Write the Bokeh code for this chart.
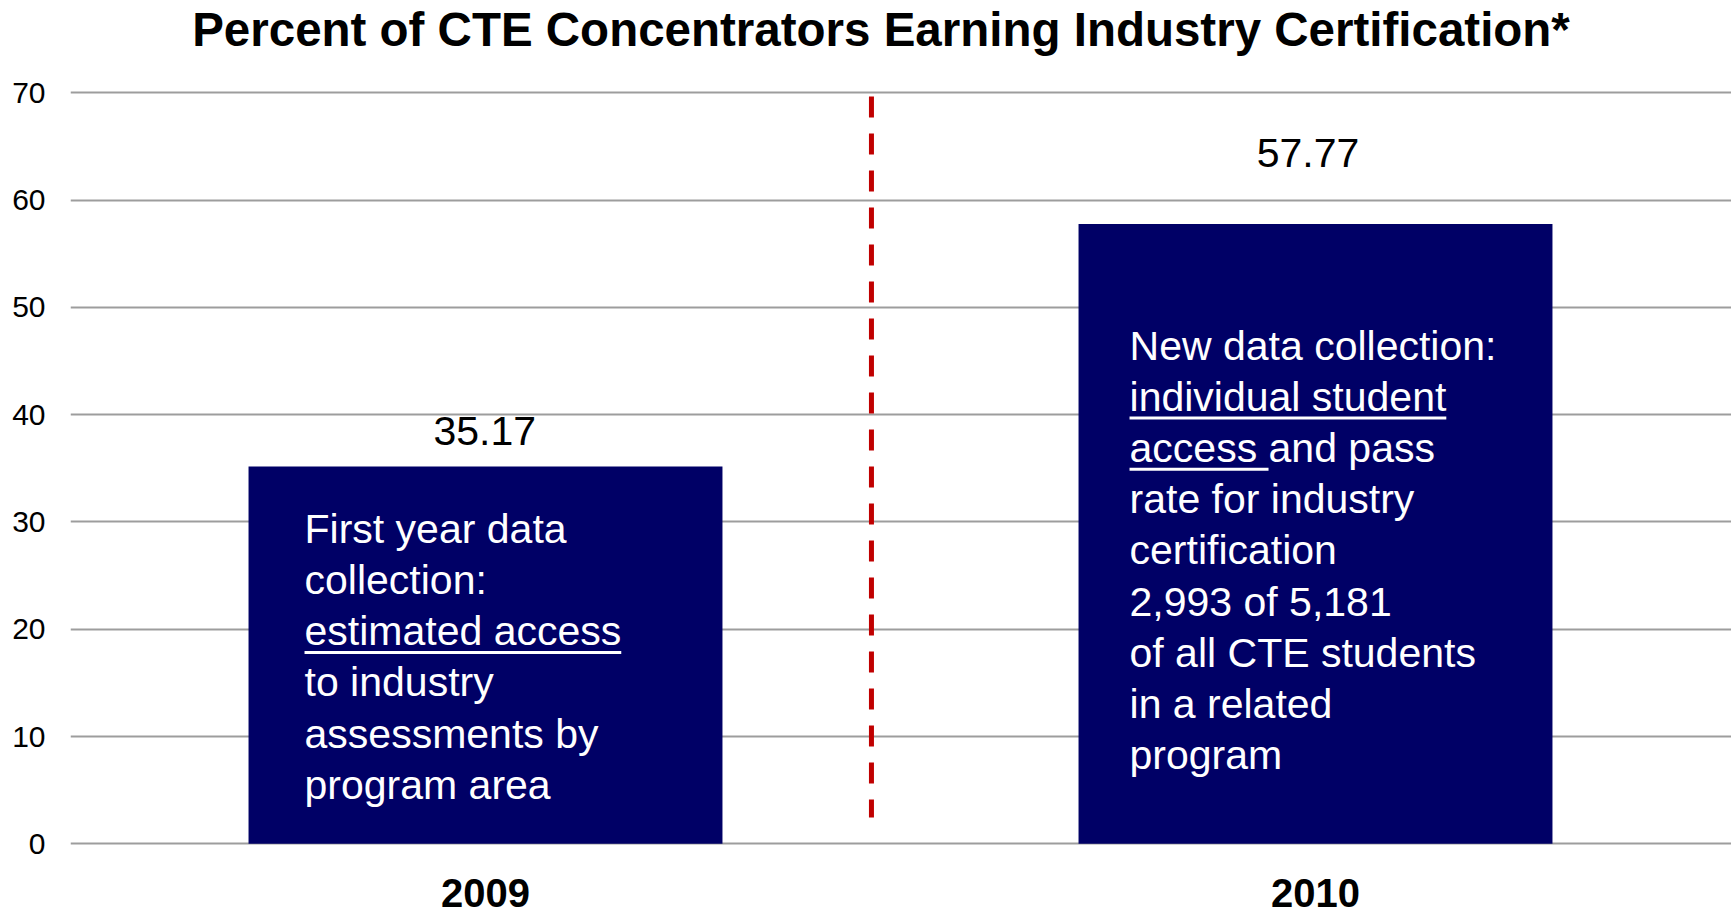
from bokeh.plotting import figure
from bokeh.models import Range1d, FixedTicker, ColumnDataSource
from bokeh.embed import file_html
from bokeh.resources import INLINE
from bokeh.core.properties import value

# ---------------- data ----------------
categories = ["2009", "2010"]
percent = [35.17, 57.77]
value_labels = ["35.17", "57.77"]
y_ticks = [0, 10, 20, 30, 40, 50, 60, 70]
title_text = "Percent of CTE Concentrators Earning Industry Certification*"
notes_2009 = ["First year data", "collection:", "estimated access", "to industry",
              "assessments by", "program area"]
notes_2010 = ["New data collection:", "individual student", "access and pass",
              "rate for industry", "certification", "2,993 of 5,181",
              "of all CTE students", "in a related", "program"]
underlined = [(0, 2, "estimated access"), (1, 1, "individual student"), (1, 2, "access ")]
divider_x = [0.465, 0.465]
divider_y = [69.65, 2.45]

# ---------------- layout ----------------
W, H = 1731, 924
FRAME_LEFT = 70
ZERO_Y = 843.3             # canvas y of value 0
PY = (ZERO_Y - 92.3) / 70  # px per y unit
PX = 830.0                 # px per category
x_start = -0.5
x_end = x_start + (W - FRAME_LEFT) / PX
y_start = -(H - ZERO_Y) / PY
y_end = ZERO_Y / PY
BAR_W = 0.571
FONT = "Liberation Sans"
NAVY = "#000066"
BASE_SHIFT = 0.35          # rendered baseline sits this many em below the anchor

idx = list(range(len(categories)))

p = figure(width=W, height=H, x_range=Range1d(x_start, x_end), y_range=Range1d(y_start, y_end),
           output_backend="svg", toolbar_location=None, title=None,
           min_border_left=FRAME_LEFT, min_border_right=0, min_border_top=0, min_border_bottom=0)
p.outline_line_color = None
p.background_fill_color = "white"
p.border_fill_color = "white"

# axes
p.yaxis.ticker = FixedTicker(ticks=y_ticks)
p.yaxis.axis_line_color = None
p.yaxis.major_tick_line_color = None
p.yaxis.minor_tick_line_color = None
p.yaxis.major_tick_out = 0
p.yaxis.major_tick_in = 0
p.yaxis.major_label_standoff = 25
p.yaxis.major_label_text_font = FONT
p.yaxis.major_label_text_font_size = "30px"
p.yaxis.major_label_text_color = "black"

p.xaxis.ticker = FixedTicker(ticks=idx)
p.xaxis.major_label_overrides = {i: c for i, c in zip(idx, categories)}
p.xaxis.fixed_location = 0
p.xaxis.axis_line_color = None
p.xaxis.major_tick_line_color = None
p.xaxis.minor_tick_line_color = None
p.xaxis.major_tick_out = 0
p.xaxis.major_tick_in = 0
p.xaxis.major_label_standoff = 35
p.xaxis.major_label_text_font = FONT
p.xaxis.major_label_text_font_style = "bold"
p.xaxis.major_label_text_font_size = "40px"
p.xaxis.major_label_text_color = "black"

p.xgrid.visible = False
p.ygrid.grid_line_color = "#9d9d9d"
p.ygrid.grid_line_width = 2

# bars
p.vbar(x=idx, top=percent, bottom=0, width=BAR_W, fill_color=NAVY, line_color=None)

# divider
p.line(divider_x, divider_y, line_color="#C00000", line_width=5, line_dash="21 16")

# value labels (pixel offsets from bar top)
VAL_FS = 41
val_dx = [-0.7, -7.5]
val_base_up = [21.1, 56.8]   # baseline distance above bar top, px
vsrc = ColumnDataSource(dict(
    x=[i + dx / PX for i, dx in zip(idx, val_dx)],
    y=[v + (up + BASE_SHIFT * VAL_FS) / PY for v, up in zip(percent, val_base_up)],
    t=value_labels))
p.text(x="x", y="y", text="t", source=vsrc, text_font=value(FONT),
       text_font_size=value(f"{VAL_FS}px"),
       text_color="black", text_align="center", text_baseline="alphabetic")

# notes inside bars
NOTE_FS = 41
notes = [notes_2009, notes_2010]
note_dx = [56, 51]
note_first = [76.6, 135.9]   # first baseline below bar top, px
LINE_STEP = 51.2
nx, ny, nt = [], [], []
for i, lines in enumerate(notes):
    for k, line in enumerate(lines):
        nx.append(idx[i] - BAR_W / 2 + note_dx[i] / PX)
        ny.append(percent[i] - (note_first[i] + k * LINE_STEP - BASE_SHIFT * NOTE_FS) / PY)
        nt.append(line)
p.text(x=nx, y=ny, text=nt, text_font=value(FONT), text_font_size=value(f"{NOTE_FS}px"),
       text_color="white", text_align="left", text_baseline="alphabetic")

# underlines (advance widths of Arial/Liberation Sans, em)
ul_em = {"estimated access": 7.725, "individual student": 7.726, "access ": 3.39}
x0s, x1s, ys = [], [], []
for i, k, s in underlined:
    x0 = idx[i] - BAR_W / 2 + note_dx[i] / PX
    y = percent[i] - (note_first[i] + k * LINE_STEP + 7) / PY
    x0s.append(x0)
    x1s.append(x0 + ul_em[s] * NOTE_FS / PX)
    ys.append(y)
p.segment(x0=x0s, y0=ys, x1=x1s, y1=ys, line_color="white", line_width=3)

# title
TITLE_FS = 47.5
p.text(x=[(880.5 - 485) / PX], y=[y_end - (46 - BASE_SHIFT * TITLE_FS) / PY], text=[title_text],
       text_font=value(FONT), text_font_size=value(f"{TITLE_FS}px"), text_font_style="bold",
       text_color="black", text_align="center", text_baseline="alphabetic")

open("out.html", "w").write(file_html(p, INLINE))
